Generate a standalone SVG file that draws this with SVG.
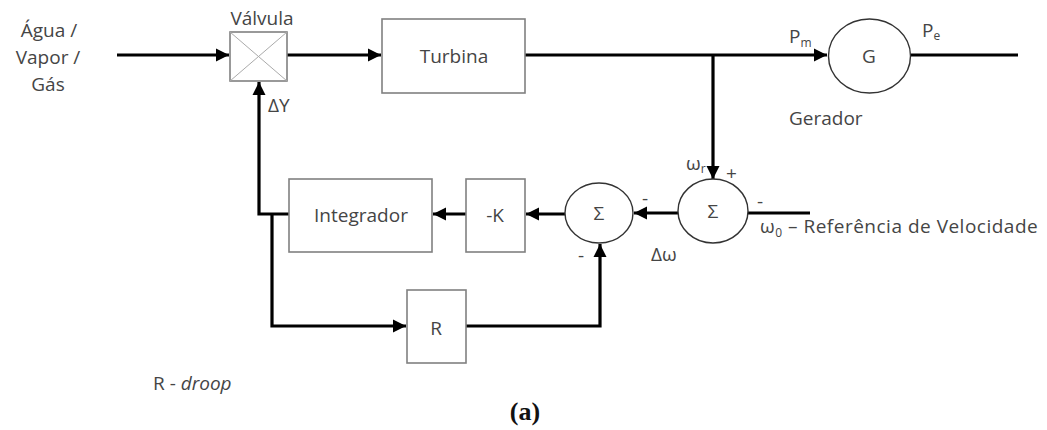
<svg xmlns="http://www.w3.org/2000/svg" width="1047" height="430" viewBox="0 0 1047 430">
<style>
.box{fill:#fff;stroke:#808080;stroke-width:1.6}
.circ{fill:#fff;stroke:#333;stroke-width:1.4}
.cross{stroke:#aaa;stroke-width:1}
.wire{fill:none;stroke:#000;stroke-width:3.2}
.t{font-family:"Open Sans","Liberation Sans",sans-serif;font-size:19px;fill:#454545}
.c{text-anchor:middle}
.s{font-size:12px}
</style>
<defs>
<marker id="ah" viewBox="0 0 10 10" refX="10" refY="5" markerWidth="4.2" markerHeight="4.8" orient="auto" markerUnits="strokeWidth">
<path d="M0,0 L10,5 L0,10 Z" fill="#000"/>
</marker>
</defs>
<rect width="1047" height="430" fill="#fff"/>

<g id="connectors">
<path class="wire" d="M117,55 H229" marker-end="url(#ah)"/>
<path class="wire" d="M287,55 H381" marker-end="url(#ah)"/>
<path class="wire" d="M525,55 H827" marker-end="url(#ah)"/>
<path class="wire" d="M911,55 H1018"/>
<path class="wire" d="M713,55 V179" marker-end="url(#ah)"/>
<path class="wire" d="M748,213 H810"/>
<path class="wire" d="M678,213 H634" marker-end="url(#ah)"/>
<path class="wire" d="M565,214 H526" marker-end="url(#ah)"/>
<path class="wire" d="M466,214 H433" marker-end="url(#ah)"/>
<path class="wire" d="M289,214 H259 V82" marker-end="url(#ah)"/>
<path class="wire" d="M272,214 V326 H406" marker-end="url(#ah)"/>
<path class="wire" d="M466,326 H600 V244" marker-end="url(#ah)"/>
</g>

<g id="valvula">
<rect class="box" x="230" y="32" width="57" height="49"/>
<line class="cross" x1="230" y1="32" x2="287" y2="81"/>
<line class="cross" x1="287" y1="32" x2="230" y2="81"/>
<text class="t c" x="262" y="25">Válvula</text>
<text class="t" x="268" y="112">ΔY</text>
</g>

<g id="entrada">
<text class="t c" x="49" y="37">Água /</text>
<text class="t c" x="48" y="64">Vapor /</text>
<text class="t c" x="48" y="91">Gás</text>
</g>

<g id="turbina">
<rect class="box" x="382" y="19" width="143" height="74"/>
<text class="t c" x="454" y="63">Turbina</text>
</g>

<g id="gerador">
<ellipse class="circ" cx="869.5" cy="56" rx="41" ry="37"/>
<text class="t c" x="869" y="63">G</text>
<text class="t" x="789" y="43">P<tspan class="s" dy="4">m</tspan></text>
<text class="t" x="922" y="37">P<tspan class="s" dy="3">e</tspan></text>
<text class="t" x="789" y="125">Gerador</text>
</g>

<g id="soma1">
<ellipse class="circ" cx="713" cy="211" rx="35" ry="32"/>
<text class="t c" x="713" y="218">Σ</text>
<text class="t" x="686" y="170">ω<tspan class="s" dy="3">r</tspan></text>
<text class="t" x="726" y="180">+</text>
<text class="t" x="757" y="208">-</text>
<text class="t" x="760" y="233" letter-spacing="0.5">ω<tspan class="s" dy="4">0</tspan><tspan dy="-4"> – Referência de Velocidade</tspan></text>
</g>

<g id="soma2">
<ellipse class="circ" cx="599" cy="213" rx="34" ry="30"/>
<text class="t c" x="599" y="220">Σ</text>
<text class="t" x="642" y="205">-</text>
<text class="t" x="651" y="261">Δω</text>
<text class="t" x="578" y="262">-</text>
</g>

<g id="ganhoK">
<rect class="box" x="466" y="179" width="59" height="73"/>
<text class="t c" x="495" y="222">-K</text>
</g>

<g id="integrador">
<rect class="box" x="289" y="179" width="143" height="73"/>
<text class="t c" x="361" y="222">Integrador</text>
</g>

<g id="droop">
<rect class="box" x="407" y="290" width="59" height="73"/>
<text class="t c" x="436" y="335">R</text>
</g>

<text class="t" x="153" y="390">R - <tspan font-style="italic">droop</tspan></text>
<text x="525" y="420" text-anchor="middle" font-family="Liberation Serif,serif" font-size="26" font-weight="bold" fill="#111">(a)</text>
</svg>
